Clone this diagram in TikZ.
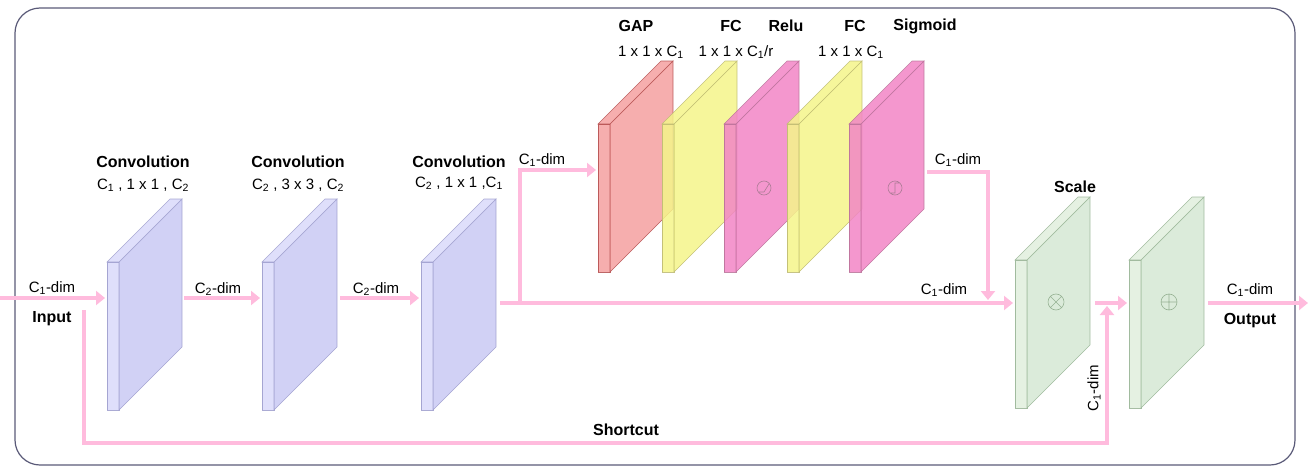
\documentclass[tikz,border=0pt]{standalone}
\usepackage{fontspec}
\setmainfont{Liberation Sans}
\usetikzlibrary{arrows.meta}
\definecolor{pk}{HTML}{FFBBDD}
\definecolor{brd}{HTML}{5A5A78}
\definecolor{cvf}{HTML}{C9C9F3}
\definecolor{cvs}{HTML}{D9D9FA}
\definecolor{cve}{HTML}{9C9CCC}
\definecolor{gnf}{HTML}{D5E8D4}
\definecolor{gns}{HTML}{E0EEDD}
\definecolor{gne}{HTML}{96B293}
\definecolor{rdf}{HTML}{F4A0A0}
\definecolor{yef}{HTML}{F5F58A}
\definecolor{pif}{HTML}{F285C5}
\newcommand{\sub}[1]{\textsubscript{#1}}
\tikzset{
 flow/.style={draw=pk,line width=4pt,-{Triangle[length=9pt,width=14pt]}},
 lab/.style={font=\fontsize{15}{17}\selectfont,inner sep=0pt},
 ttl/.style={font=\fontsize{16}{18}\selectfont\bfseries,inner sep=0pt},
}
\newcommand{\slab}[5]{% x, ytop, front, edge, side
 \fill[#5,draw=#4,line width=0.6pt,opacity=0.85] (#1,#2) -- (#1+12,#2) -- (#1+12,#2+148) -- (#1,#2+148) -- cycle;
 \fill[#3,draw=#4,line width=0.6pt,opacity=0.85] (#1+12,#2) -- (#1+75,#2-63) -- (#1+75,#2+85) -- (#1+12,#2+148) -- cycle;
 \fill[#5,draw=#4,line width=0.6pt,opacity=0.85] (#1,#2) -- (#1+63,#2-63) -- (#1+75,#2-63) -- (#1+12,#2) -- cycle;
}
\begin{document}
\begin{tikzpicture}[x=1pt,y=-1pt]
\useasboundingbox (0,0) rectangle (1310,471);
\draw[brd,line width=1.2pt,rounded corners=25pt] (15,8) rectangle (1295,465);
% slabs
\slab{107}{262}{cvf}{cve}{cvs}
\slab{262}{262}{cvf}{cve}{cvs}
\slab{421}{262}{cvf}{cve}{cvs}
\slab{598}{124}{rdf}{red!40!gray}{rdf}
\slab{662}{124}{yef}{yellow!40!gray}{yef}
\slab{724}{124}{pif}{magenta!40!gray}{pif}
\slab{787}{124}{yef}{yellow!40!gray}{yef}
\slab{849}{124}{pif}{magenta!40!gray}{pif}
\slab{1015}{260}{gnf}{gne}{gns}
\slab{1129}{260}{gnf}{gne}{gns}
% symbols
\draw[gray!70!magenta,line width=0.6pt] (764,188) circle (7) (759,192) -- (764,192) -- (769,184);
\draw[gray!70!magenta,line width=0.6pt] (895,188) circle (7) (890,193) -- (895,193) -- (895,183) -- (900,183);
\draw[gne,line width=0.6pt] (1056,302) circle (8) ++(-5.6,-5.6) -- ++(11.2,11.2) ++(0,-11.2) -- ++(-11.2,11.2);
\draw[gne,line width=0.6pt] (1169,302) circle (8) ++(-8,0) -- ++(16,0) ++(-8,-8) -- ++(0,16);
% coordinates
\coordinate (in0) at (0,298); \coordinate (in1) at (105,298);
\coordinate (a0) at (184,298); \coordinate (a1) at (260,298);
\coordinate (b0) at (340,298); \coordinate (b1) at (419,298);
\coordinate (m0) at (500,303); \coordinate (m1) at (1013,303);
\coordinate (br) at (520,303); \coordinate (g1) at (596,170);
\coordinate (s0) at (927,172); \coordinate (s1) at (988,300);
\coordinate (x0) at (1095,303); \coordinate (x1) at (1127,303);
\coordinate (sc0) at (84,310); \coordinate (sc1) at (1107,306);
\coordinate (o0) at (1208,303); \coordinate (o1) at (1308,303);
\draw[flow] (in0) -- (in1);
\draw[flow] (a0) -- (a1);
\draw[flow] (b0) -- (b1);
\draw[flow] (m0) -- (m1);
\draw[flow] (br) |- (g1);
\draw[flow] (s0) -| (s1);
\draw[flow] (x0) -- (x1);
\draw[flow] (sc0) |- (626,443) -| (sc1);
\draw[flow] (o0) -- (o1);
% labels
\node[lab] (l1) at (52,288) {C\sub{1}-dim};
\node[ttl] (l2) at (52,319) {Input};
\node[lab] (l3) at (218,289) {C\sub{2}-dim};
\node[lab] (l4) at (376,289) {C\sub{2}-dim};
\node[lab] (l5) at (542,160) {C\sub{1}-dim};
\node[lab] (l6) at (958,160) {C\sub{1}-dim};
\node[lab] (l7) at (944,290) {C\sub{1}-dim};
\node[lab] (l8) at (1250,290) {C\sub{1}-dim};
\node[ttl] (l9) at (1250,321) {Output};
\node[ttl] (l10) at (626,430) {Shortcut};
\node[lab,rotate=90] (l11) at (1094,388) {C\sub{1}-dim};
\node[ttl] (t1) at (143,162) {Convolution};
\node[lab] (t1b) at (143,185) {C\sub{1} , 1 x 1 , C\sub{2}};
\node[ttl] (t2) at (298,162) {Convolution};
\node[lab] (t2b) at (298,185) {C\sub{2} , 3 x 3 , C\sub{2}};
\node[ttl] (t3) at (459,162) {Convolution};
\node[lab] (t3b) at (459,183) {C\sub{2} , 1 x 1 ,C\sub{1}};
\node[ttl] (t4) at (636,26) {GAP};
\node[lab] (t4b) at (651,52) {1 x 1 x C\sub{1}};
\node[ttl] (t5) at (731,26) {FC};
\node[lab] (t5b) at (736,52) {1 x 1 x C\sub{1}/r};
\node[ttl] (t6) at (786,26) {Relu};
\node[ttl] (t7) at (855,26) {FC};
\node[lab] (t7b) at (851,52) {1 x 1 x C\sub{1}};
\node[ttl] (t8) at (925,26) {Sigmoid};
\node[ttl] (t9) at (1075,187) {Scale};
\end{tikzpicture}
\end{document}
